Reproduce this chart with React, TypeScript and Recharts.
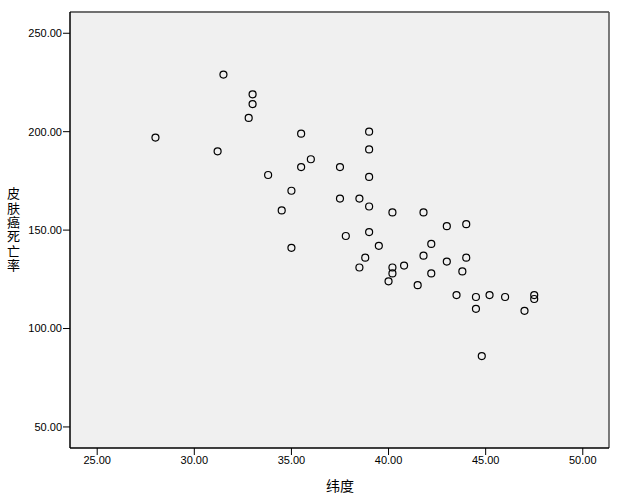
import { ScatterChart, Scatter, XAxis, YAxis, CartesianGrid, ReferenceLine } from 'recharts';

// latitude (纬度) and skin cancer mortality (皮肤癌死亡率), one entry per state
const latitude = [
  33.0, 34.5, 35.0, 37.5, 39.0, 41.8, 39.0, 39.0, 28.0, 33.0,
  44.5, 40.0, 40.2, 42.2, 38.5, 37.8, 31.2, 45.2, 39.0, 42.2,
  43.5, 46.0, 32.8, 38.5, 47.0, 41.5, 39.0, 43.8, 40.2, 35.0,
  43.0, 35.5, 47.5, 40.2, 35.5, 44.0, 40.8, 41.8, 33.8, 44.8,
  36.0, 31.5, 39.5, 44.0, 37.5, 47.5, 38.8, 44.5, 43.0,
];
const mortality = [
  219, 160, 170, 182, 149, 159, 200, 177, 197, 214,
  116, 124, 128, 128, 166, 147, 190, 117, 162, 143,
  117, 116, 207, 131, 109, 122, 191, 129, 159, 141,
  152, 199, 115, 131, 182, 136, 132, 137, 178, 86,
  186, 229, 142, 153, 166, 117, 136, 110, 134,
];
const xTicks = [25, 30, 35, 40, 45, 50];
const yTicks = [50, 100, 150, 200, 250];
const xDomain = [23.6, 51.35];
const yDomain = [39.3, 260.8];
const yTitle = '皮肤癌死亡率';
const xTitle = '纬度';

const data = latitude.map((lat, i) => ({ lat, mort: mortality[i] }));

const tickStyle = { fontSize: 11, fill: '#000', fontFamily: '"Liberation Sans", Arial, sans-serif' };
const cjkFont = '"Noto Sans CJK SC", sans-serif';

function Ring(props: any) {
  return <circle cx={props.cx} cy={props.cy} r={3.5} fill="none" stroke="#000" strokeWidth={1.2} />;
}

// stacked vertical title, one text element in vertical writing mode
function YTitle() {
  return (
    <text
      x={13.5}
      y={187}
      fontSize={13}
      fontFamily={cjkFont}
      fill="#000"
      letterSpacing={1.3}
      style={{ writingMode: 'vertical-rl' }}
    >
      {yTitle}
    </text>
  );
}

function XTitle() {
  return (
    <text x={340} y={491} fontSize={14} fontFamily={cjkFont} fill="#000" textAnchor="middle">
      {xTitle}
    </text>
  );
}

export default function App() {
  return (
    <div style={{ position: 'absolute', left: 0, top: 0, background: '#fff' }}>
      <ScatterChart width={620} height={498} margin={{ top: 12, right: 11, left: 0, bottom: 0 }}>
        <CartesianGrid fill="#f0f0f0" stroke="none" horizontal={false} vertical={false} />
        <XAxis
          type="number"
          dataKey="lat"
          domain={xDomain}
          allowDataOverflow
          ticks={xTicks}
          tickFormatter={(v: number) => v.toFixed(2)}
          height={50}
          tick={tickStyle}
          tickSize={7}
          tickMargin={1}
          axisLine={{ stroke: '#000', strokeWidth: 1.5 }}
          tickLine={{ stroke: '#000' }}
          label={{ content: XTitle }}
        />
        <YAxis
          type="number"
          dataKey="mort"
          domain={yDomain}
          allowDataOverflow
          ticks={yTicks}
          tickFormatter={(v: number) => v.toFixed(2)}
          width={70}
          tick={tickStyle}
          tickSize={7}
          tickMargin={1}
          axisLine={{ stroke: '#000', strokeWidth: 1.5 }}
          tickLine={{ stroke: '#000' }}
          label={{ content: YTitle }}
        />
        <ReferenceLine y={yDomain[1]} stroke="#707070" strokeWidth={2} />
        <ReferenceLine x={xDomain[1]} stroke="#505050" strokeWidth={1.5} />
        <Scatter data={data} shape={Ring} isAnimationActive={false} />
      </ScatterChart>
    </div>
  );
}
